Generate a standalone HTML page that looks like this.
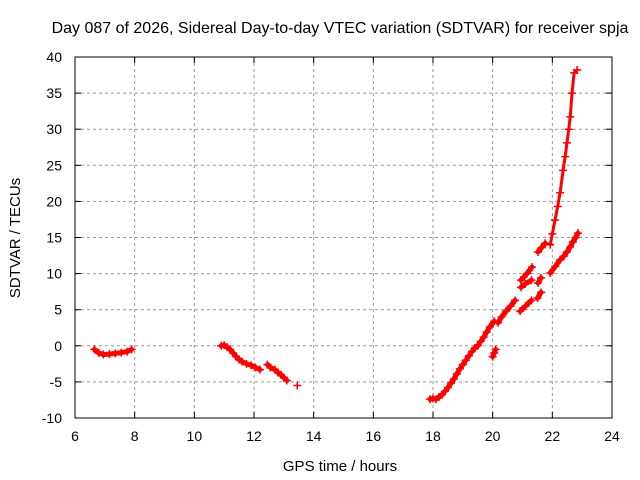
<!DOCTYPE html>
<html><head><meta charset="utf-8"><style>
body{margin:0;background:#fff}
svg{display:block;font-family:"Liberation Sans",sans-serif}
</style></head><body>
<svg id="c" width="640" height="480">
<text x="340" y="33" font-size="16" text-anchor="middle">Day 087 of 2026, Sidereal Day-to-day VTEC variation (SDTVAR) for receiver spja</text>
<text x="340" y="471" font-size="15" text-anchor="middle">GPS time / hours</text>
<text transform="translate(20,238) rotate(-90)" font-size="15" text-anchor="middle">SDTVAR / TECUs</text>
<g id="grid"></g><g id="series"></g>
<rect x="75" y="57" width="537" height="361" fill="none" stroke="#000"/>
</svg>
<script>
const xTicks=[6,8,10,12,14,16,18,20,22,24];
const yTicks=[-10,-5,0,5,10,15,20,25,30,35,40];
const seg1=[[6.65,-0.5],[6.8,-1],[6.95,-1.2],[7.15,-1.15],[7.35,-1.05],[7.55,-0.95],[7.75,-0.8],[7.9,-0.5]];
const seg2=[[10.9,0],[11.0,0.1],[11.1,-0.2],[11.2,-0.5],[11.3,-1],[11.4,-1.5],[11.5,-1.9],[11.6,-2.2],[11.75,-2.5],[11.9,-2.7],[12.05,-3],[12.2,-3.3]];
const seg3=[[12.45,-2.6],[12.55,-3],[12.7,-3.3],[12.8,-3.7],[12.9,-4],[13.0,-4.4],[13.1,-4.8]];
const seg4=[[13.45,-5.5]];
const seg5=[[17.9,-7.4],[18.0,-7.3],[18.1,-7.4],[18.2,-7.1],[18.3,-6.8],[18.4,-6.3],[18.5,-5.8],[18.6,-5.2],[18.7,-4.6],[18.8,-3.9],[18.9,-3.2],[19.0,-2.6],[19.1,-2],[19.2,-1.4],[19.3,-0.8],[19.4,-0.3],[19.5,0],[19.6,0.6],[19.7,1.2],[19.8,1.9],[19.9,2.6],[20.05,3.4]];
const seg6=[[20.0,-1.5],[20.05,-1],[20.1,-0.5]];
const seg7=[[20.18,3.2],[20.3,4],[20.45,4.8],[20.6,5.5],[20.75,6.3]];
const seg8=[[20.92,4.8],[21.1,5.5],[21.3,6.3]];
const seg9=[[20.95,8.1],[21.1,8.6],[21.3,9.1]];
const seg10=[[20.95,9.1],[21.15,10],[21.32,10.9]];
const seg11=[[21.52,13],[21.64,13.6],[21.76,14.2]];
const seg12=[[21.52,8.7],[21.62,9.4]];
const seg13=[[21.5,6.6],[21.62,7.4]];
const seg14=[[21.93,14],[22.0,15.5],[22.09,17.4],[22.18,19.3],[22.26,21.2],[22.36,24.3],[22.43,26.2],[22.49,28.1],[22.55,30],[22.6,31.7],[22.66,35],[22.73,37.8],[22.83,38.2]];
const seg15=[[21.93,10.1],[22.1,11],[22.26,11.9],[22.38,12.4],[22.49,13],[22.6,13.7],[22.69,14.4],[22.78,15],[22.86,15.6]];
const allSeries=[seg1,seg2,seg3,seg4,seg5,seg6,seg7,seg8,seg9,seg10,seg11,seg12,seg13,seg14,seg15];
const X=h=>75+(h-6)*537/18, Y=v=>418-(v+10)*361/50;
const NS="http://www.w3.org/2000/svg";
const grid=document.getElementById('grid'),ser=document.getElementById('series');
function mk(t,a,p){const e=document.createElementNS(NS,t);for(const k in a)e.setAttribute(k,a[k]);p.appendChild(e);return e;}
xTicks.forEach(t=>{const x=X(t);
 if(t>6&&t<24){const l=mk('line',{x1:x,x2:x,y1:57,y2:418,stroke:'#999','stroke-dasharray':'3,3'},grid);}
 mk('line',{x1:x,x2:x,y1:418,y2:412,stroke:'#000'},grid);mk('line',{x1:x,x2:x,y1:57,y2:63,stroke:'#000'},grid);
 const tx=mk('text',{x:x,y:441,'font-size':14,'text-anchor':'middle'},grid);tx.textContent=t;
 });
yTicks.forEach(t=>{const y=Y(t);
 if(t>-10&&t<40){const l=mk('line',{x1:75,x2:612,y1:y,y2:y,stroke:'#999','stroke-dasharray':'3,3'},grid);}
 mk('line',{x1:75,x2:81,y1:y,y2:y,stroke:'#000'},grid);mk('line',{x1:606,x2:612,y1:y,y2:y,stroke:'#000'},grid);
 const tx=mk('text',{x:62,y:y+5,'font-size':14,'text-anchor':'end'},grid);tx.textContent=t;
 });
allSeries.forEach((s,i)=>{
 const g=mk('g',{},ser);
 
 
 if(s.length>1)mk('polyline',{points:s.map(p=>X(p[0])+','+Y(p[1])).join(' '),fill:'none',stroke:'#f00','stroke-width':i===13?3:5,'stroke-linejoin':'round','stroke-linecap':'round'},g);
 s.forEach(p=>{const x=X(p[0]),y=Y(p[1]);
  const m=mk('path',{d:`M${x-4},${y}H${x+4}M${x},${y-4}V${y+4}`,stroke:'#f00','stroke-width':1.5},g);
  
  });
});
</script>
</body></html>
